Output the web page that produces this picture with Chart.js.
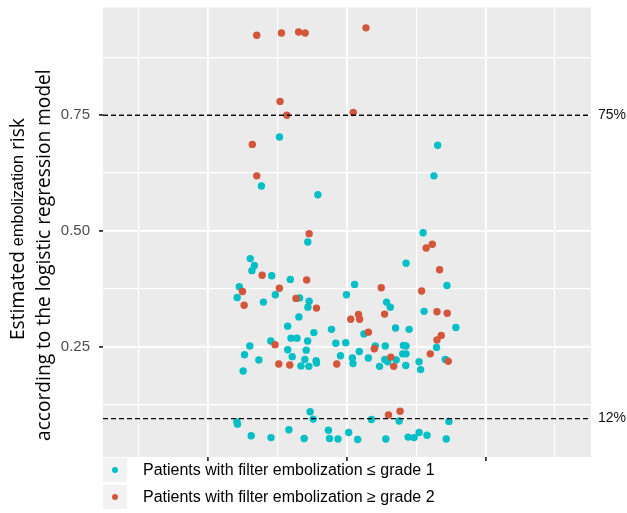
<!DOCTYPE html>
<html>
<head>
<meta charset="utf-8">
<script src="https://cdn.jsdelivr.net/npm/chart.js@4.4.1/dist/chart.umd.min.js"></script>
<style>
    html, body { margin: 0; padding: 0; background: #fff; }
    #chart { display: block; }
</style>
</head>
<body>
<canvas id="chart" width="627" height="513"></canvas>
<script>
// Patients with filter embolization <= grade 1 (x = jittered position, y = estimated risk)
const lowX = [1.513, 2.654, 2.627, 1.383, 1.790, 2.549, 1.717, 1.302, 1.332, 1.314,
    1.457, 1.591, 1.223, 1.208, 1.483, 1.397, 1.658, 1.727, 1.718, 1.653,
    2.426, 2.055, 1.996, 2.721, 2.285, 2.312, 2.556, 1.572, 1.761, 1.888,
    1.596, 1.639, 1.716, 1.450, 1.299, 1.919, 1.572, 1.706, 1.261, 1.605,
    1.953, 1.364, 1.696, 1.777, 1.780, 1.668, 1.725, 1.251, 2.350, 2.448,
    2.785, 2.646, 2.122, 1.991, 2.089, 2.204, 2.276, 2.407, 2.426, 2.402,
    2.426, 2.039, 2.043, 2.154, 2.273, 2.294, 2.355, 2.235, 2.424, 2.520,
    2.531, 2.709, 1.206, 1.210, 1.309, 1.452, 1.581, 1.691, 1.734, 1.756,
    1.866, 1.874, 1.935, 2.012, 2.077, 2.177, 2.376, 2.280, 2.441, 2.484,
    2.520, 2.577, 2.735, 2.716];
const lowY = [0.703, 0.685, 0.619, 0.597, 0.578, 0.496, 0.476, 0.440, 0.425, 0.414,
    0.403, 0.395, 0.379, 0.356, 0.362, 0.346, 0.355, 0.348, 0.335, 0.314,
    0.430, 0.384, 0.362, 0.382, 0.346, 0.335, 0.326, 0.294, 0.280, 0.287,
    0.268, 0.268, 0.262, 0.262, 0.251, 0.257, 0.243, 0.242, 0.232, 0.228,
    0.230, 0.221, 0.222, 0.219, 0.214, 0.208, 0.207, 0.197, 0.290, 0.287,
    0.291, 0.248, 0.277, 0.258, 0.239, 0.251, 0.251, 0.252, 0.251, 0.234,
    0.234, 0.225, 0.213, 0.225, 0.222, 0.217, 0.221, 0.207, 0.209, 0.217,
    0.200, 0.222, 0.087, 0.082, 0.057, 0.053, 0.070, 0.051, 0.109, 0.093,
    0.069, 0.051, 0.050, 0.064, 0.049, 0.092, 0.089, 0.050, 0.054, 0.053,
    0.064, 0.058, 0.088, 0.050];

// Patients with filter embolization >= grade 2
const highX = [1.349, 1.527, 1.651, 1.698, 2.137, 1.517, 1.566, 2.045, 1.317, 1.349,
    1.727, 2.615, 2.571, 1.388, 1.709, 1.246, 1.512, 1.258, 1.632, 1.780,
    2.668, 2.247, 2.538, 2.271, 2.649, 2.723, 2.027, 2.083, 2.091, 1.481,
    1.508, 1.587, 1.926, 2.680, 2.649, 2.154, 2.197, 2.601, 2.316, 2.337,
    2.730, 2.299, 2.383];
const highY = [0.923, 0.928, 0.930, 0.928, 0.939, 0.780, 0.750, 0.756, 0.687, 0.619,
    0.494, 0.471, 0.463, 0.404, 0.394, 0.369, 0.376, 0.339, 0.354, 0.333,
    0.416, 0.377, 0.370, 0.320, 0.325, 0.322, 0.309, 0.319, 0.309, 0.254,
    0.212, 0.210, 0.212, 0.274, 0.264, 0.281, 0.245, 0.234, 0.227, 0.207,
    0.218, 0.102, 0.110];

const seriesLabels = ['Patients with filter embolization \u2264 grade 1',
                      'Patients with filter embolization \u2265 grade 2'];

// Axis breaks (major + minor grid)
const yTicks = [0.125, 0.25, 0.375, 0.5, 0.625, 0.75, 0.875];
const yLabelTicks = [0.25, 0.5, 0.75];
const xTicks = [0.5, 1, 1.5, 2, 2.5, 3, 3.5];
const xMajorTicks = [1, 2, 3];

// Dashed risk cut-offs
const cutoffValues = [0.75, 0.094];
const cutoffLabels = ['75%', '12%'];

const X_MIN = 0.24, X_MAX = 3.76;
const Y_MIN = 0.011, Y_MAX = 0.983;

const TEAL = '#00BFC6';
const RED = '#D3553A';

const toPoints = (xs, ys) => xs.map((x, i) => ({ x: x, y: ys[i] }));

// Grey ggplot-style panel
const panelBackground = {
    id: 'panelBackground',
    beforeDraw(chart) {
        const { ctx, chartArea: a } = chart;
        ctx.save();
        ctx.fillStyle = '#EBEBEB';
        ctx.fillRect(a.left, a.top, a.right - a.left, a.bottom - a.top);
        ctx.restore();
    }
};

// draw rotated runs of text so that the whole line is about `length` px long
function drawRotatedLine(ctx, runs, cx, startY, length) {
    let natural = 0;
    runs.forEach(([txt, family, rel]) => {
        ctx.font = (10 * rel) + 'px ' + family;
        natural += ctx.measureText(txt).width;
    });
    const k = length / natural;
    ctx.save();
    ctx.translate(cx, startY);
    ctx.rotate(-Math.PI / 2);
    let pos = 0;
    runs.forEach(([txt, family, rel]) => {
        ctx.font = (10 * rel * k).toFixed(2) + 'px ' + family;
        ctx.fillText(txt, pos, 0);
        pos += ctx.measureText(txt).width;
    });
    ctx.restore();
}

// Axis title, cut-off labels and legend
const annotations = {
    id: 'annotations',
    afterDraw(chart) {
        const { ctx, chartArea: a } = chart;
        const yScale = chart.scales.y;

        // y title: two rotated lines
        ctx.save();
        ctx.fillStyle = '#000';
        ctx.textBaseline = 'middle';
        ctx.textAlign = 'left';
        drawRotatedLine(ctx, [
            ['Estimated ', '"Open Sans"', 1],
            ['embolization', '"Liberation Sans"', 0.85],
            [' risk', '"Open Sans"', 1]
        ], 19, 340, 222);
        drawRotatedLine(ctx, [
            ['according to the logistic regression model', '"Open Sans"', 1]
        ], 45, 441, 372);
        ctx.restore();

        // cut-off labels on the right
        ctx.save();
        ctx.fillStyle = '#111';
        ctx.font = '14px "Liberation Sans", Arial, sans-serif';
        ctx.textBaseline = 'middle';
        ctx.textAlign = 'left';
        cutoffValues.forEach((v, i) => {
            ctx.fillText(cutoffLabels[i], a.right + 7, yScale.getPixelForValue(v));
        });
        ctx.restore();

        // legend below the panel
        ctx.save();
        ctx.font = '16px "Liberation Sans", Arial, sans-serif';
        ctx.textBaseline = 'middle';
        ctx.textAlign = 'left';
        const colors = [TEAL, RED];
        seriesLabels.forEach((label, i) => {
            const cy = 470 + i * 27;
            ctx.fillStyle = '#F2F2F2';
            ctx.fillRect(103, cy - 12, 24, 24);
            ctx.fillStyle = colors[i];
            ctx.beginPath();
            ctx.arc(115, cy, 3, 0, Math.PI * 2);
            ctx.fill();
            ctx.fillStyle = '#000';
            ctx.fillText(label, 143, cy + 1);
        });
        ctx.restore();
    }
};

const ctx = document.getElementById('chart').getContext('2d');
new Chart(ctx, {
    type: 'scatter',
    data: {
        datasets: [
            ...cutoffValues.map(v => ({
                type: 'line',
                data: [{ x: X_MIN, y: v }, { x: X_MAX, y: v }],
                borderColor: '#000',
                borderWidth: 1.3,
                borderDash: [5, 3],
                pointRadius: 0,
                fill: false
            })),
            {
                label: seriesLabels[1],
                data: toPoints(highX, highY),
                backgroundColor: RED,
                borderWidth: 0,
                pointRadius: 3.7
            },
            {
                label: seriesLabels[0],
                data: toPoints(lowX, lowY),
                backgroundColor: TEAL,
                borderWidth: 0,
                pointRadius: 3.7
            }
        ]
    },
    options: {
        responsive: false,
        animation: false,
        layout: { padding: { left: 0, right: 36, top: 7.5, bottom: 0 } },
        plugins: {
            legend: { display: false },
            tooltip: { enabled: false }
        },
        scales: {
            x: {
                type: 'linear',
                min: X_MIN,
                max: X_MAX,
                afterBuildTicks: (scale) => { scale.ticks = xTicks.map(v => ({ value: v })); },
                afterFit: (scale) => {
                    scale.height = 56;
                    scale.paddingLeft = 0;
                    scale.paddingRight = 0;
                },
                border: { display: false },
                grid: {
                    color: '#FFFFFF',
                    lineWidth: (c) => xMajorTicks.includes(c.tick.value) ? 1.8 : 1.2,
                    tickColor: (c) => xMajorTicks.includes(c.tick.value) ? '#333' : 'rgba(0,0,0,0)',
                    tickLength: 4
                },
                ticks: { autoSkip: false, callback: () => '' }
            },
            y: {
                type: 'linear',
                min: Y_MIN,
                max: Y_MAX,
                afterBuildTicks: (scale) => { scale.ticks = yTicks.map(v => ({ value: v })); },
                afterFit: (scale) => {
                    scale.width = 103;
                    scale.paddingTop = 0;
                    scale.paddingBottom = 0;
                },
                border: { display: false },
                grid: {
                    color: '#FFFFFF',
                    lineWidth: (c) => yLabelTicks.includes(c.tick.value) ? 1.8 : 1.2,
                    tickColor: (c) => yLabelTicks.includes(c.tick.value) ? '#333' : 'rgba(0,0,0,0)',
                    tickLength: 4
                },
                ticks: {
                    autoSkip: false,
                    padding: 9,
                    color: '#4D4D4D',
                    font: { family: '"Liberation Sans", Arial, sans-serif', size: 15 },
                    callback: (v) => yLabelTicks.includes(v) ? v.toFixed(2) : ''
                }
            }
        }
    },
    plugins: [panelBackground, annotations]
});
</script>
</body>
</html>
